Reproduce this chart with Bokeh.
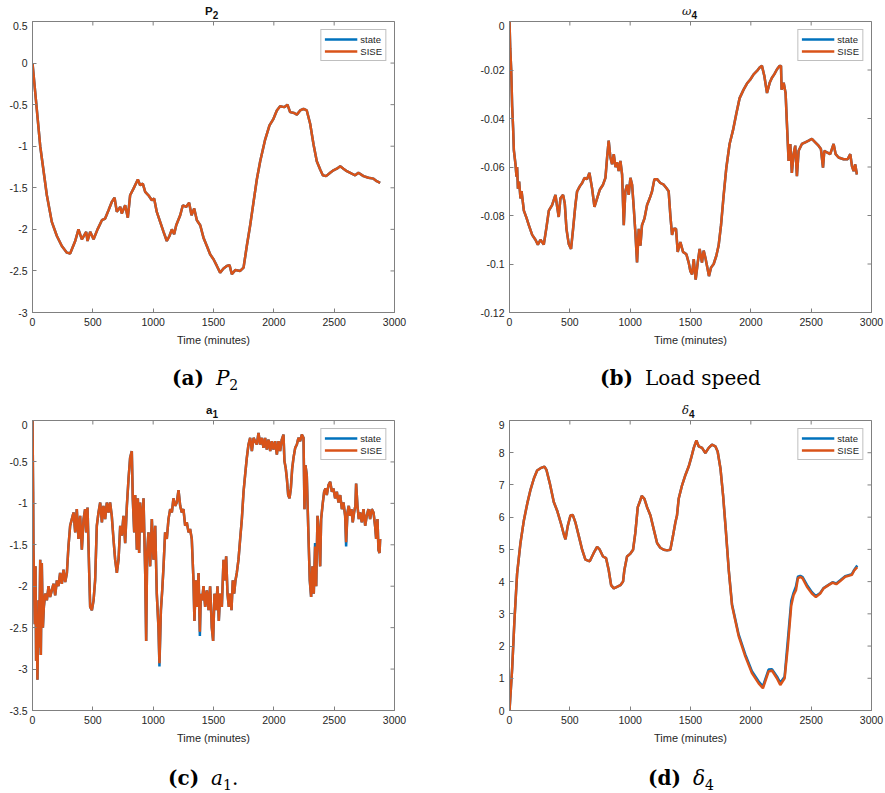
from bokeh.plotting import figure
from bokeh.models import Range1d, FixedTicker, Legend, LegendItem, Div
from bokeh.layouts import column, row
from bokeh.embed import file_html
from bokeh.resources import INLINE

# ---------------- data ----------------
x_ticks = [0, 500, 1000, 1500, 2000, 2500, 3000]
x_tick_labels = ["0", "500", "1000", "1500", "2000", "2500", "3000"]
x_label = "Time (minutes)"
series_names = ["state", "SISE"]

# panel titles: (main symbol, subscript, symbol style)
titles = [("P", "2", "bold"), ("ω", "4", "greek"), ("a", "1", "bold"), ("δ", "4", "greek")]
# captions: (tag, symbol, subscript, trailing text, symbol style)
captions = [("(a)", "P", "2", "", "italic"), ("(b)", "Load speed", "", "", "normal"),
            ("(c)", "a", "1", ".", "italic"), ("(d)", "δ", "4", "", "italic")]

# (a) P2
yt_a = [-3, -2.5, -2, -1.5, -1, -0.5, 0, 0.5]
yl_a = ["-3", "-2.5", "-2", "-1.5", "-1", "-0.5", "0", "0.5"]
t_a = [0, 64, 119, 160, 202, 243, 285, 312, 354, 381, 409, 445, 456, 478, 506, 539, 575, 602, 630, 657,
       680, 699, 727, 740, 768, 790, 809, 837, 873, 892, 914, 934, 961, 989, 1008, 1030, 1058, 1086, 1113, 1135,
       1155, 1174, 1191, 1224, 1246, 1273, 1298, 1318, 1340, 1362, 1390, 1417, 1445, 1472, 1500, 1528, 1555, 1583, 1610, 1633,
       1652, 1680, 1721, 1749, 1776, 1804, 1832, 1859, 1887, 1928, 1964, 1997, 2025, 2052, 2086, 2113, 2135, 2168, 2191, 2218,
       2246, 2273, 2301, 2329, 2356, 2384, 2406, 2433, 2467, 2494, 2522, 2550, 2577, 2605, 2646, 2674, 2701, 2743, 2784, 2826,
       2853, 2881]
state_a = [0, -1.0, -1.59, -1.91, -2.08, -2.2, -2.28, -2.29, -2.14, -2.0, -2.12, -2.03, -2.14, -2.03, -2.12, -2.0, -1.89, -1.87, -1.77, -1.67,
           -1.62, -1.79, -1.73, -1.81, -1.71, -1.86, -1.59, -1.51, -1.40, -1.47, -1.45, -1.55, -1.59, -1.65, -1.63, -1.79, -1.91, -2.03, -2.14, -2.08,
           -2.0, -2.06, -1.95, -1.83, -1.71, -1.73, -1.68, -1.83, -1.75, -1.89, -1.95, -2.10, -2.20, -2.30, -2.36, -2.44, -2.52, -2.47, -2.44, -2.43,
           -2.54, -2.49, -2.50, -2.46, -2.20, -1.95, -1.67, -1.40, -1.18, -0.92, -0.75, -0.67, -0.57, -0.52, -0.53, -0.50, -0.59, -0.60, -0.62, -0.57,
           -0.55, -0.57, -0.73, -0.98, -1.18, -1.28, -1.35, -1.36, -1.32, -1.29, -1.27, -1.24, -1.27, -1.30, -1.33, -1.35, -1.32, -1.36, -1.38, -1.39,
           -1.42, -1.44]
sise_a = state_a

# (b) omega4
yt_b = [-0.12, -0.1, -0.08, -0.06, -0.04, -0.02, 0]
yl_b = ["-0.12", "-0.1", "-0.08", "-0.06", "-0.04", "-0.02", "0"]
t_b = [0, 6, 14, 22, 30, 36, 50, 58, 63, 70,
       80, 91, 100, 119, 141, 160, 188, 215, 235, 257,
       284, 306, 326, 353, 381, 395, 408, 422, 444, 458,
       472, 491, 510, 527, 546, 560, 582, 602, 621, 643,
       662, 684, 704, 726, 748, 775, 795, 809, 822, 836,
       850, 864, 878, 891, 905, 919, 933, 947, 960, 974,
       988, 1002, 1016, 1030, 1043, 1057, 1071, 1085, 1098, 1118,
       1140, 1162, 1181, 1201, 1223, 1250, 1278, 1300, 1319, 1333,
       1347, 1361, 1380, 1394, 1416, 1438, 1466, 1485, 1499, 1513,
       1527, 1543, 1560, 1576, 1595, 1609, 1623, 1637, 1653, 1670,
       1692, 1714, 1733, 1753, 1775, 1797, 1824, 1852, 1880, 1907,
       1940, 1968, 1996, 2023, 2051, 2073, 2092, 2112, 2134, 2156,
       2175, 2194, 2217, 2239, 2250, 2255, 2272, 2288, 2299, 2313,
       2327, 2340, 2354, 2368, 2382, 2396, 2423, 2451, 2479, 2506,
       2534, 2561, 2581, 2598, 2609, 2631, 2658, 2686, 2703, 2727,
       2769, 2802, 2824, 2838, 2852, 2865, 2879]
state_b = [0, -0.011, -0.0197, -0.035, -0.044, -0.053, -0.059, -0.064, -0.060, -0.069,
           -0.066, -0.073, -0.070, -0.078, -0.081, -0.084, -0.088, -0.090, -0.092, -0.090,
           -0.092, -0.085, -0.078, -0.0757, -0.0715, -0.0764, -0.0806, -0.0729, -0.0715, -0.075,
           -0.0855, -0.0917, -0.0938, -0.0855, -0.0757, -0.0701, -0.068, -0.0666, -0.0645, -0.065,
           -0.0624, -0.0687, -0.0764, -0.0729, -0.0694, -0.0673, -0.0645, -0.056, -0.0491, -0.056,
           -0.0589, -0.0547, -0.060, -0.058, -0.0617, -0.0575, -0.0631, -0.084, -0.070, -0.0673,
           -0.0715, -0.0645, -0.0673, -0.077, -0.0869, -0.0994, -0.0855, -0.0924, -0.084, -0.0813,
           -0.0757, -0.0729, -0.0701, -0.065, -0.065, -0.0666, -0.0673, -0.0687, -0.070, -0.080,
           -0.088, -0.0855, -0.0855, -0.095, -0.091, -0.095, -0.096, -0.0994, -0.103, -0.1043,
           -0.098, -0.1064, -0.0994, -0.0938, -0.0994, -0.0945, -0.0973, -0.1008, -0.105, -0.1015,
           -0.1, -0.0966, -0.0924, -0.084, -0.0715, -0.0603, -0.0505, -0.0449, -0.0379, -0.0316,
           -0.0281, -0.0256, -0.0239, -0.0218, -0.0204, -0.019, -0.0183, -0.0225, -0.0295, -0.0253,
           -0.0232, -0.0218, -0.0197, -0.0183, -0.0183, -0.0281, -0.0253, -0.0295, -0.042, -0.0575,
           -0.0505, -0.0624, -0.0547, -0.0512, -0.0638, -0.0533, -0.0505, -0.0498, -0.0491, -0.0484,
           -0.0498, -0.0512, -0.0526, -0.0603, -0.0533, -0.054, -0.0547, -0.0505, -0.0547, -0.0561,
           -0.0568, -0.0568, -0.0547, -0.0596, -0.0617, -0.0589, -0.0631]
sise_b = state_b

# (c) a1
yt_c = [-3.5, -3, -2.5, -2, -1.5, -1, -0.5, 0]
yl_c = ["-3.5", "-3", "-2.5", "-2", "-1.5", "-1", "-0.5", "0"]
t_c = [0, 5, 8, 14, 19, 25, 30, 36, 41, 50,
       55, 64, 69, 77, 86, 94, 105, 119, 133, 146,
       160, 174, 188, 202, 215, 229, 243, 257, 271, 285,
       298, 312, 326, 340, 354, 367, 381, 395, 409, 423,
       436, 445, 456, 470, 478, 492, 506, 519, 533, 547,
       561, 575, 588, 602, 616, 630, 643, 657, 671, 685,
       699, 713, 727, 740, 754, 768, 782, 796, 809, 823,
       831, 843, 851, 865, 873, 884, 892, 906, 920, 934,
       942, 950, 961, 975, 989, 1003, 1017, 1030, 1044, 1052,
       1064, 1075, 1086, 1099, 1113, 1127, 1141, 1155, 1168, 1182,
       1196, 1210, 1224, 1237, 1251, 1265, 1279, 1293, 1306, 1320,
       1334, 1342, 1353, 1364, 1376, 1387, 1395, 1406, 1417, 1431,
       1445, 1459, 1472, 1486, 1497, 1508, 1522, 1533, 1544, 1555,
       1569, 1583, 1594, 1605, 1616, 1627, 1638, 1649, 1660, 1671,
       1682, 1693, 1707, 1721, 1735, 1749, 1762, 1776, 1790, 1804,
       1818, 1832, 1845, 1859, 1873, 1887, 1901, 1914, 1928, 1942,
       1956, 1970, 1983, 1997, 2011, 2025, 2039, 2052, 2066, 2080,
       2088, 2099, 2108, 2119, 2130, 2141, 2152, 2163, 2177, 2191,
       2204, 2218, 2232, 2246, 2254, 2262, 2273, 2287, 2298, 2309,
       2320, 2331, 2342, 2351, 2362, 2373, 2384, 2392, 2406, 2417,
       2428, 2439, 2453, 2467, 2481, 2494, 2508, 2522, 2536, 2550,
       2564, 2577, 2591, 2599, 2610, 2621, 2632, 2643, 2654, 2665,
       2676, 2682, 2693, 2704, 2715, 2729, 2743, 2757, 2770, 2784,
       2798, 2812, 2826, 2839, 2848, 2859, 2867, 2876, 2881]
state_c = [0, -0.86, -1.56, -2.0, -2.46, -1.76, -2.9, -2.5, -3.13, -2.17,
           -2.74, -1.68, -2.83, -1.72, -2.5, -2.25, -2.09, -2.17, -2.0, -2.13,
           -2.05, -1.97, -2.11, -1.93, -2.0, -1.84, -1.97, -1.8, -1.95, -1.84,
           -1.52, -1.27, -1.19, -1.11, -1.35, -1.07, -1.43, -1.15, -1.56, -1.19,
           -1.07, -1.35, -1.05, -1.84, -2.25, -2.29, -2.17, -1.93, -1.27, -1.11,
           -0.99, -1.23, -1.03, -1.19, -0.99, -1.11, -0.99, -1.15, -1.43, -1.68,
           -1.84, -1.68, -1.27, -1.39, -1.15, -1.48, -1.03, -0.70, -0.45, -0.37,
           -0.94, -1.35, -0.9, -1.56, -0.94, -1.6, -0.99, -1.35, -0.94, -1.84,
           -2.66, -1.6, -1.35, -1.76, -1.19, -1.68, -1.27, -2.09, -2.5, -2.97,
           -2.29, -2.05, -1.76, -1.35, -1.43, -1.19, -1.07, -1.11, -0.94, -1.03,
           -0.99, -0.84, -1.03, -1.11, -1.07, -1.27, -1.23, -1.35, -1.31, -1.43,
           -1.93, -2.42, -1.93, -2.25, -1.84, -2.6, -2.09, -2.17, -2.0, -2.25,
           -2.05, -2.29, -2.0, -2.5, -2.66, -2.09, -2.29, -2.0, -2.42, -2.09,
           -2.25, -1.68, -1.93, -1.64, -2.09, -2.25, -2.09, -2.29, -1.93, -2.09,
           -1.93, -1.84, -1.68, -1.43, -1.19, -0.86, -0.66, -0.45, -0.29, -0.21,
           -0.37, -0.21, -0.25, -0.29, -0.15, -0.29, -0.21, -0.33, -0.21, -0.35,
           -0.23, -0.37, -0.25, -0.35, -0.25, -0.41, -0.25, -0.37, -0.23, -0.17,
           -0.49, -0.58, -0.7, -0.9, -0.94, -0.82, -0.58, -0.45, -0.33, -0.29,
           -0.21, -0.25, -0.17, -0.21, -1.07, -0.54, -0.66, -1.39, -1.93, -2.13,
           -1.76, -2.09, -1.48, -2.0, -1.15, -1.35, -1.76, -1.19, -0.99, -0.86,
           -0.82, -0.9, -0.78, -0.74, -0.86, -0.82, -0.94, -0.86, -0.99, -0.9,
           -1.07, -0.99, -1.15, -1.52, -1.11, -1.03, -1.15, -1.07, -1.23, -1.11,
           -1.03, -0.76, -1.03, -1.19, -1.11, -1.23, -1.07, -1.27, -1.15, -1.07,
           -1.19, -1.07, -1.11, -1.27, -1.43, -1.19, -1.56, -1.6, -1.43]
sise_c = [0, -0.86, -1.56, -2.0, -2.46, -1.76, -2.9, -2.5, -3.13, -2.17,
          -2.74, -1.68, -2.83, -1.72, -2.5, -2.25, -2.09, -2.17, -2.0, -2.13,
          -2.05, -1.97, -2.11, -1.93, -2.0, -1.84, -1.97, -1.8, -1.95, -1.84,
          -1.52, -1.27, -1.19, -1.11, -1.35, -1.07, -1.43, -1.15, -1.56, -1.19,
          -1.07, -1.35, -1.05, -1.84, -2.25, -2.29, -2.17, -1.93, -1.27, -1.11,
          -0.99, -1.23, -1.03, -1.19, -0.99, -1.11, -0.99, -1.15, -1.43, -1.68,
          -1.84, -1.68, -1.27, -1.39, -1.15, -1.48, -1.03, -0.70, -0.45, -0.37,
          -0.94, -1.35, -0.9, -1.56, -0.94, -1.6, -0.99, -1.35, -0.94, -1.84,
          -2.66, -1.6, -1.35, -1.76, -1.19, -1.68, -1.27, -2.09, -2.5, -2.93,
          -2.29, -2.05, -1.76, -1.35, -1.43, -1.19, -1.07, -1.11, -0.94, -1.03,
          -0.99, -0.84, -1.03, -1.11, -1.07, -1.27, -1.23, -1.35, -1.31, -1.43,
          -1.93, -2.42, -1.93, -2.25, -1.84, -2.55, -2.09, -2.17, -2.0, -2.25,
          -2.05, -2.29, -2.0, -2.5, -2.66, -2.09, -2.29, -2.0, -2.42, -2.09,
          -2.25, -1.68, -1.93, -1.64, -2.09, -2.25, -2.09, -2.29, -1.93, -2.09,
          -1.93, -1.84, -1.68, -1.43, -1.19, -0.86, -0.66, -0.45, -0.29, -0.21,
          -0.37, -0.21, -0.25, -0.29, -0.15, -0.29, -0.21, -0.33, -0.21, -0.35,
          -0.23, -0.37, -0.25, -0.35, -0.25, -0.41, -0.25, -0.37, -0.23, -0.17,
          -0.49, -0.58, -0.7, -0.9, -0.94, -0.82, -0.58, -0.45, -0.33, -0.29,
          -0.21, -0.25, -0.17, -0.21, -1.07, -0.54, -0.66, -1.39, -1.93, -2.13,
          -1.76, -2.09, -1.52, -2.0, -1.15, -1.35, -1.76, -1.19, -0.99, -0.86,
          -0.82, -0.9, -0.78, -0.74, -0.86, -0.82, -0.94, -0.86, -0.99, -0.9,
          -1.07, -0.99, -1.15, -1.47, -1.11, -1.03, -1.15, -1.07, -1.23, -1.11,
          -1.03, -0.76, -1.03, -1.19, -1.11, -1.23, -1.07, -1.27, -1.15, -1.07,
          -1.19, -1.07, -1.11, -1.27, -1.43, -1.19, -1.56, -1.6, -1.43]

# (d) delta4
yt_d = [0, 1, 2, 3, 4, 5, 6, 7, 8, 9]
yl_d = ["0", "1", "2", "3", "4", "5", "6", "7", "8", "9"]
t_d = [0, 22, 41, 63, 91, 119, 147, 174, 202, 229,
       257, 290, 306, 334, 367, 395, 428, 450, 464, 483,
       505, 524, 546, 574, 602, 629, 665, 698, 726, 748,
       775, 800, 822, 842, 864, 891, 919, 941, 952, 974,
       1002, 1024, 1043, 1063, 1079, 1096, 1118, 1140, 1168, 1195,
       1223, 1250, 1278, 1306, 1333, 1355, 1375, 1388, 1402, 1430,
       1458, 1485, 1505, 1527, 1549, 1568, 1596, 1623, 1651, 1678,
       1706, 1725, 1748, 1770, 1792, 1817, 1844, 1899, 1954, 2009,
       2065, 2100, 2147, 2175, 2216, 2244, 2280, 2307, 2335, 2354,
       2374, 2390, 2410, 2429, 2465, 2506, 2539, 2575, 2603, 2644,
       2677, 2708, 2741, 2782, 2837, 2859, 2882]
state_d = [0, 1.3, 2.8, 4.25, 5.2, 5.9, 6.42, 6.85, 7.2, 7.45,
           7.52, 7.57, 7.47, 7.05, 6.47, 6.2, 5.78, 5.47, 5.31, 5.73,
           6.05, 6.07, 5.84, 5.42, 4.99, 4.68, 4.63, 4.89, 5.08, 4.99,
           4.78, 4.73, 4.36, 3.89, 3.79, 3.84, 3.89, 4.0, 4.36, 4.78,
           4.87, 4.99, 5.52, 6.31, 6.47, 6.66, 6.57, 6.31, 6.05, 5.63,
           5.2, 5.05, 4.99, 4.97, 4.99, 5.42, 5.84, 6.05, 6.57, 6.99,
           7.31, 7.57, 7.83, 8.15, 8.38, 8.2, 8.15, 7.99, 8.15, 8.25,
           8.2, 8.04, 7.52, 6.68, 5.63, 4.36, 3.3, 2.36, 1.74, 1.22,
           0.9, 0.75, 1.27, 1.28, 1.06, 0.86, 1.05, 2.2, 3.4, 3.65,
           3.85, 4.15, 4.18, 4.14, 3.9, 3.67, 3.55, 3.65, 3.8, 3.9,
           3.98, 3.94, 4.04, 4.17, 4.23, 4.38, 4.5]
sise_d = [0, 1.3, 2.8, 4.25, 5.2, 5.9, 6.42, 6.85, 7.2, 7.45,
          7.52, 7.57, 7.47, 7.05, 6.47, 6.2, 5.78, 5.47, 5.31, 5.73,
          6.05, 6.07, 5.84, 5.42, 4.99, 4.68, 4.63, 4.89, 5.08, 4.99,
          4.78, 4.73, 4.36, 3.89, 3.79, 3.84, 3.89, 4.0, 4.36, 4.78,
          4.87, 4.99, 5.52, 6.31, 6.47, 6.66, 6.57, 6.31, 6.05, 5.63,
          5.2, 5.05, 4.99, 4.97, 4.99, 5.42, 5.84, 6.05, 6.57, 6.99,
          7.31, 7.57, 7.83, 8.15, 8.38, 8.2, 8.15, 7.99, 8.15, 8.25,
          8.2, 8.04, 7.52, 6.68, 5.63, 4.36, 3.26, 2.31, 1.68, 1.16,
          0.84, 0.69, 1.21, 1.24, 1.0, 0.79, 1.0, 2.0, 3.26, 3.58,
          3.73, 4.1, 4.15, 4.1, 3.84, 3.63, 3.52, 3.63, 3.79, 3.89,
          3.97, 3.92, 4.02, 4.15, 4.21, 4.36, 4.45]

# ---------------- styling ----------------
BLUE = "#0072BD"
ORANGE = "#D95319"
AXC = "#808080"
TXT = "#262626"
SANS = "Liberation Sans"


def panel(width, height, lb, rb, tb, bb, yr, yticks, ylabels, t, st, se):
    p = figure(width=width, height=height, output_backend="svg", toolbar_location=None,
               title=None, x_range=Range1d(0, 3000), y_range=Range1d(yr[0], yr[1]),
               min_border_left=lb, min_border_right=rb, min_border_top=tb, min_border_bottom=bb,
               background_fill_color="white", border_fill_color="white")
    p.xgrid.visible = False
    p.ygrid.visible = False
    p.outline_line_color = AXC
    p.outline_line_width = 1

    xa = p.below[0]
    ya = p.left[0]
    xa.ticker = FixedTicker(ticks=x_ticks)
    xa.major_label_overrides = dict(zip(x_ticks, x_tick_labels))
    ya.ticker = FixedTicker(ticks=yticks)
    ya.major_label_overrides = dict(zip(yticks, ylabels))
    xa.axis_label = x_label
    for ax in (xa, ya):
        ax.axis_line_color = AXC
        ax.major_tick_line_color = AXC
        ax.major_tick_in = 4
        ax.major_tick_out = 0
        ax.minor_tick_line_color = None
        ax.major_label_text_font = SANS
        ax.major_label_text_font_size = "10.5px"
        ax.major_label_text_color = TXT
        ax.major_label_standoff = 5
        ax.axis_label_text_font = SANS
        ax.axis_label_text_font_size = "11px"
        ax.axis_label_text_font_style = "normal"
        ax.axis_label_text_color = TXT
        ax.axis_label_standoff = 5

    # inward ticks on the top and right edges of the box (half of each dash is clipped by the frame)
    p.scatter(x_ticks, [yr[1]] * len(x_ticks), marker="dash", size=8, angle=1.5708,
              line_color=AXC, line_width=1)
    p.scatter([3000] * len(yticks), yticks, marker="dash", size=8,
              line_color=AXC, line_width=1)

    r1 = p.line(t, st, line_color=BLUE, line_width=2.5)
    r2 = p.line(t, se, line_color=ORANGE, line_width=2.5)
    leg = Legend(items=[LegendItem(label=series_names[0], renderers=[r1]),
                        LegendItem(label=series_names[1], renderers=[r2])],
                 location="top_right", margin=8, padding=3, spacing=0,
                 glyph_width=33, glyph_height=12, label_height=12, label_standoff=3,
                 label_text_font=SANS, label_text_font_size="9.5px", label_text_color=TXT,
                 border_line_color=AXC, border_line_width=1, background_fill_color="white",
                 background_fill_alpha=1.0)
    p.add_layout(leg)
    return p


def title_div(tt, width, height, left, pad_top):
    sym, sub, style = tt
    if style == "greek":
        sym_html = '<span style="font-weight:normal; font-style:italic; font-family:\'DejaVu Serif\', serif">%s</span>' % sym
    else:
        sym_html = sym
    html = ('<div style="padding-left:%dpx; padding-top:%dpx; white-space:nowrap; font-family:\'Liberation Sans\', sans-serif; '
            'font-size:11.5px; line-height:12px; font-weight:bold; color:#111;">%s'
            '<span style="font-size:10px; position:relative; top:4px;">%s</span></div>') % (left, pad_top, sym_html, sub)
    return Div(text=html, width=width, height=height, margin=0)


def caption(cap, width, left, top):
    tag, sym, sub, tail, style = cap
    sub_html = ('<span style="font-size:14px; position:relative; top:5px;">%s</span>' % sub) if sub else ""
    html = ('<div style="padding-left:%dpx; padding-top:%dpx; white-space:nowrap; '
            'font-family:\'DejaVu Serif\', serif; font-size:20px; line-height:20px; color:#000;">'
            '<b>%s</b><span style="display:inline-block; width:12px"></span>'
            '<span style="font-style:%s">%s</span>%s%s</div>') % (left, top, tag, style, sym, sub_html, tail)
    return Div(text=html, width=width, height=36, margin=0)


pa = panel(442, 339, 32, 48, 0, 48, (-3, 0.5), yt_a, yl_a, t_a, state_a, sise_a)
pb = panel(443, 339, 67, 14, 0, 48, (-0.12, 0), yt_b, yl_b, t_b, state_b, sise_b)
pc = panel(442, 337, 32, 48, 0, 47, (-3.5, 0), yt_c, yl_c, t_c, state_c, sise_c)
pd = panel(443, 337, 67, 14, 0, 47, (0, 9), yt_d, yl_d, t_d, state_d, sise_d)

ta = title_div(titles[0], 442, 21, 205, 5)
tb_ = title_div(titles[1], 443, 21, 240, 5)
tc = title_div(titles[2], 442, 24, 206, 8)
td = title_div(titles[3], 443, 24, 240, 8)

ca = caption(captions[0], 442, 172, 8)
cb = caption(captions[1], 443, 158, 8)
cc = caption(captions[2], 442, 168, 11)
cd = caption(captions[3], 443, 206, 11)

layout = column(row(ta, tb_), row(pa, pb), row(ca, cb),
                row(tc, td), row(pc, pd), row(cc, cd), spacing=0)
open("out.html", "w").write(file_html(layout, INLINE))
